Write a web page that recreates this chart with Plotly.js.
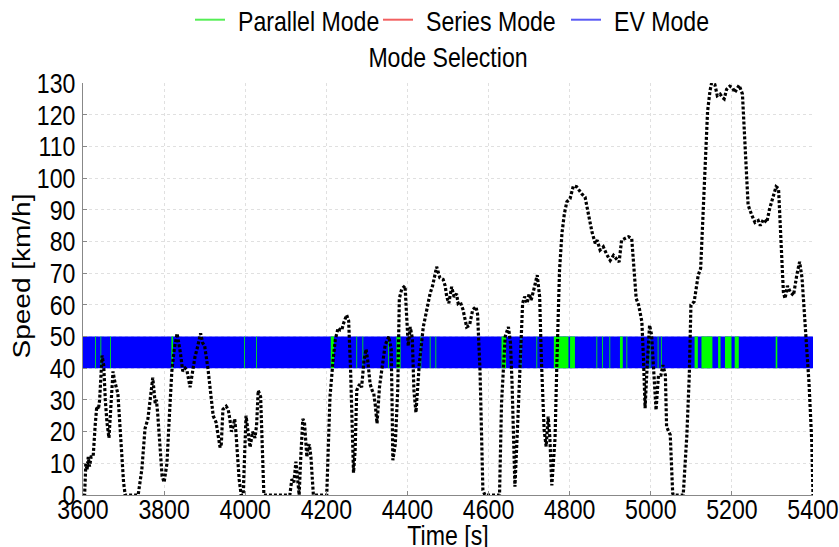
<!DOCTYPE html>
<html>
<head>
<meta charset="utf-8">
<script src="https://cdn.plot.ly/plotly-3.0.1.min.js"></script>
<style>html,body{margin:0;padding:0;background:#fff;}#chart{width:839px;height:547px;}</style>
</head>
<body>
<div id="chart"></div>
<script>
// Speed trace (time in s, speed in km/h)
const timeS = [3600,3604,3607,3610,3613,3616,3620,3625,3630,3634,3638,3641,3647,3651,3655,3659,3664,3669,3674,3678,3683,3686,3691,3696,3700,3704,3736,3745,3750,3753,3760,3765,3772,3778,3781,3784,3790,3795,3800,3807,3813,3819,3825,3832,3840,3846,3852,3856,3864,3870,3876,3883,3890,3895,3900,3908,3915,3921,3928,3934,3938,3941,3945,3953,3958,3962,3966,3970,3974,3977,3980,3985,3990,3995,4002,4008,4012,4018,4024,4028,4032,4038,4042,4046,4110,4115,4120,4125,4130,4133,4137,4142,4146,4149,4152,4155,4158,4162,4165,4168,4201,4205,4209,4216,4222,4229,4235,4238,4242,4250,4255,4260,4263,4267,4271,4275,4282,4287,4293,4298,4302,4308,4313,4317,4321,4325,4331,4337,4345,4354,4360,4362,4364,4370,4376,4380,4386,4394,4398,4402,4407,4412,4416,4421,4429,4439,4447,4456,4462,4472,4480,4488,4493,4497,4502,4509,4515,4521,4525,4530,4537,4546,4553,4561,4569,4573,4579,4583,4586,4591,4627,4632,4637,4641,4649,4654,4658,4661,4665,4671,4677,4684,4689,4695,4700,4705,4711,4720,4726,4730,4737,4742,4747,4751,4756,4760,4764,4768,4775,4781,4787,4793,4801,4809,4817,4830,4838,4846,4855,4863,4868,4875,4883,4891,4900,4908,4916,4922,4928,4937,4945,4953,4957,4964,4970,4978,4982,4986,4990,4997,5002,5008,5013,5019,5025,5030,5036,5039,5048,5054,5056,5080,5089,5095,5099,5107,5112,5117,5123,5130,5136,5140,5146,5150,5158,5164,5171,5176,5181,5187,5195,5202,5207,5212,5218,5226,5232,5236,5240,5249,5257,5265,5270,5278,5286,5293,5301,5309,5315,5320,5327,5331,5337,5344,5352,5360,5367,5373,5381,5390,5397,5400];
const speedKmh = [0,0,10,8,12,9,12,12,22,28,27,30,44,41,30,23,18,30,39,36,34,32,22,12,4,0,0,8,15,21,24,30,37,29,30,26,15,6,4,10,25,39,46,51,45,39,40,39.5,34,39,43.5,47,51,48,47,40,32,25,23,18,15,16,27,28,27,24,20,21.5,24,20,14,5,0,0,25,18,15,20,18,22,33,31,15,0,0,5,4,10.5,4,0,12,24,23,18,12,15,16,12,5,0,0,15,31,41.6,49,52.7,52,52,54,56.8,55,38.5,20,7,14,33,35,34,42.6,46,42.5,35,33,32,28,22.6,34,40,47.3,50,46,30,11,16,33,62,65,66,54,47,53,49.5,33,26,41,53,58,63.7,66,72,68.5,68,66,62.5,60.5,65.7,62.5,63.5,60.5,61,58.5,53,53.5,58.5,59.4,57,39,15,1.5,0,0,29,42,50,53,48,35,18.4,2.6,20,39,60.5,62.6,60.5,63.5,61.5,64.5,69.4,62.5,43.6,20.5,15.3,24.7,18.4,3,10,18,39.4,71,82.6,88.8,92.5,93.5,97.5,97.3,95,94,88.8,83,79.4,80.4,77.3,78.3,76,74,75.6,74.6,73.5,80.4,81,81.5,81,73.6,62,60,54.7,43,27.4,38,53.6,50.5,35.7,26.8,37.8,37.8,41,37.8,21.5,19,0.5,0,0,19,38,60,61,65.4,69.4,71.5,92.5,111.5,121,127.5,130,129.5,126,126.5,125.5,125,128,129,128.5,127,128,129.3,126.5,111.5,99,91.5,88.3,86,86.6,85,87,86,90.3,93.5,97.3,96.7,83,64,62,66,64,63,69.4,73.6,68.4,53.6,35.7,16.8,0];

// Mode selection intervals (s); indicator drawn between these speed levels
const modeLow = 40, modeHigh = 50;
const evStart = [3600];
const evEnd = [5400];
const seriesStart = [];
const seriesEnd = [];
const parallelStart = [3630,3643,3667,3818,3944,3997,4027,4139,4211,4246,4274,4289,4328,4352,4373,4402,4432,4455,4469,4522,4559,4632,4652,4669,4679,4702,4718,4726,4761,4801,4833,4866,4880,4898,4924,4940,4966,4997,5017,5025,5093,5108,5125,5166,5183,5207,5293,5308];
const parallelEnd   = [3632,3645,3669,3822,3945,3999,4029,4140,4219,4247,4276,4291,4329,4354,4383,4403,4434,4457,4471,4523,4560,4643,4653,4670,4681,4703,4720,4727,4797,4813,4834,4868,4882,4900,4931,4942,4967,4999,5019,5027,5094,5116,5152,5172,5199,5217,5294,5312];

const axisTicksX = [3600,3800,4000,4200,4400,4600,4800,5000,5200,5400];
const axisTicksY = [0,10,20,30,40,50,60,70,80,90,100,110,120,130];

const GREEN = '#00ff00', RED = '#ff0000', BLUE = '#0000ff';
const FONT = "'Liberation Sans', Arial, Helvetica, sans-serif";
const FS = 28;          // reference text is tall and horizontally condensed
const SQUEEZE = 0.825;  // horizontal condensing of text

function bandPolys(starts, ends) {
  const x = [], y = [];
  for (let i = 0; i < starts.length; i++) {
    x.push(starts[i], starts[i], ends[i], ends[i], starts[i], null);
    y.push(modeLow, modeHigh, modeHigh, modeLow, modeLow, null);
  }
  return {x, y};
}

function bandTrace(starts, ends, color) {
  const p = bandPolys(starts, ends);
  return {x: p.x, y: p.y, type: 'scatter', mode: 'lines', fill: 'toself',
    fillcolor: color, line: {width: 0, color: color}, showlegend: false,
    hoverinfo: 'skip', connectgaps: false};
}

const traces = [
  bandTrace(evStart, evEnd, BLUE),
  bandTrace(seriesStart, seriesEnd, RED),
  bandTrace(parallelStart, parallelEnd, GREEN),
  {x: timeS, y: speedKmh, type: 'scatter', mode: 'lines', showlegend: false,
   line: {color: '#000', width: 3.2, dash: '3px,2px'}, hoverinfo: 'skip'},
  {x: [null], y: [null], type: 'scatter', mode: 'lines', name: 'Parallel Mode', line: {color: '#55ee55', width: 2}},
  {x: [null], y: [null], type: 'scatter', mode: 'lines', name: 'Series Mode', line: {color: '#f26060', width: 2}},
  {x: [null], y: [null], type: 'scatter', mode: 'lines', name: 'EV Mode', line: {color: '#5a5af5', width: 2}}
];

const hf = {family: FONT, size: FS, color: '#000'};
const layout = {
  width: 839, height: 547,
  margin: {l: 83, r: 26, t: 83, b: 52, pad: 0},
  paper_bgcolor: '#fff', plot_bgcolor: '#fff',
  font: hf,
  title: {text: 'Mode Selection', x: 0.5, xanchor: 'center', xref: 'paper',
          y: 1 - 57 / 547, yanchor: 'middle', font: hf},
  showlegend: true,
  legend: {orientation: 'h', xref: 'paper', x: (190 - 83) / 730, xanchor: 'left', yref: 'container', y: 1 - 20 / 547, yanchor: 'middle',
           font: hf, bgcolor: 'rgba(0,0,0,0)', traceorder: 'normal', entrywidth: 143, entrywidthmode: 'pixels'},
  xaxis: {range: [3600, 5400], tickmode: 'array', tickvals: axisTicksX, ticktext: axisTicksX.map(String),
          ticks: 'inside', ticklen: 4, tickcolor: '#888', showline: true, linecolor: '#888', linewidth: 1,
          showgrid: true, gridcolor: '#e0e0e0', griddash: 'dot', gridwidth: 1, zeroline: false,
          tickfont: hf, automargin: false, ticklabelstandoff: -11, ticklabeloverflow: 'allow',
          title: {text: 'Time [s]', font: hf, standoff: 2}},
  yaxis: {range: [0, 130], tickmode: 'array', tickvals: axisTicksY, ticktext: axisTicksY.map(String),
          ticks: 'inside', ticklen: 4, tickcolor: '#888', showline: true, linecolor: '#888', linewidth: 1,
          showgrid: true, gridcolor: '#e0e0e0', griddash: 'dot', gridwidth: 1, zeroline: false,
          tickfont: hf, automargin: false, ticklabelstandoff: 1, ticklabeloverflow: 'allow',
          title: {text: 'Speed [km/h]', font: hf, standoff: 2}}
};

function condenseText(root) {
  root.querySelectorAll('text').forEach(t => {
    if (t.closest('.g-ytitle')) {
      // rotated label: condense its thickness (screen x) and nudge it to the reference spot
      const bb = t.getBBox();
      const cx = bb.x + bb.width / 2;
      const orig = t.getAttribute('transform') || '';
      t.setAttribute('transform', 'translate(' + (cx + 5) + ',-13) scale(' + SQUEEZE + ',1) translate(' + (-cx) + ',0) ' + orig);
      return;
    }
    const len = t.getComputedTextLength();
    if (len > 0) {
      t.setAttribute('textLength', (len * SQUEEZE).toFixed(2));
      t.setAttribute('lengthAdjust', 'spacingAndGlyphs');
    }
    if (t.closest('.g-xtitle')) {
      const orig = t.getAttribute('transform') || '';
      t.setAttribute('transform', 'translate(0,4) ' + orig);
    }
    if (t.classList.contains('legendtext')) {
      t.setAttribute('x', String(parseFloat(t.getAttribute('x') || '40') + 8));
    }
  });
}

Plotly.newPlot('chart', traces, layout, {displayModeBar: false, staticPlot: true})
  .then(gd => condenseText(gd));
</script>
</body>
</html>
